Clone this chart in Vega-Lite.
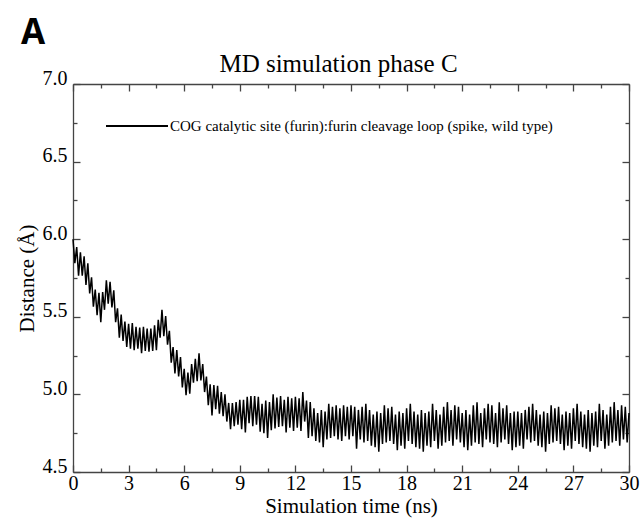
{
  "$schema": "https://vega.github.io/schema/vega-lite/v6.json",
  "width": 556,
  "height": 388,
  "autosize": {"type": "none"},
  "padding": {"left": 73, "top": 84, "right": 11, "bottom": 46},
  "background": "white",
  "config": {
    "view": {"stroke": null},
    "axis": {
      "grid": false,
      "labelFont": "Liberation Serif",
      "titleFont": "Liberation Serif",
      "labelColor": "black",
      "titleColor": "black",
      "titleFontWeight": "normal",
      "labelFontSize": 20,
      "titleFontSize": 21,
      "domainColor": "#444444",
      "tickColor": "#444444",
      "domainWidth": 1.3,
      "tickWidth": 1.3,
      "labelFlush": false,
      "labelOverlap": false
    }
  },
  "title": {
    "text": "A",
    "anchor": "start",
    "frame": "group",
    "font": "Open Sans",
    "fontWeight": "bold",
    "fontSize": 35,
    "color": "black",
    "dx": -52,
    "dy": 4
  },
  "data": {
    "values": [
      {"t": 0, "d": 6.0}, {"t": 0.1, "d": 5.845}, {"t": 0.2, "d": 5.95}, {"t": 0.3, "d": 5.765}, {"t": 0.4, "d": 5.915},
      {"t": 0.5, "d": 5.765}, {"t": 0.6, "d": 5.89}, {"t": 0.7, "d": 5.705}, {"t": 0.8, "d": 5.845}, {"t": 0.9, "d": 5.65},
      {"t": 1.0, "d": 5.755}, {"t": 1.1, "d": 5.565}, {"t": 1.2, "d": 5.675}, {"t": 1.3, "d": 5.51}, {"t": 1.4, "d": 5.655},
      {"t": 1.5, "d": 5.465}, {"t": 1.6, "d": 5.66}, {"t": 1.7, "d": 5.545}, {"t": 1.8, "d": 5.735}, {"t": 1.9, "d": 5.585},
      {"t": 2.0, "d": 5.725}, {"t": 2.1, "d": 5.56}, {"t": 2.2, "d": 5.67}, {"t": 2.3, "d": 5.465}, {"t": 2.4, "d": 5.555},
      {"t": 2.5, "d": 5.365}, {"t": 2.6, "d": 5.515}, {"t": 2.7, "d": 5.345}, {"t": 2.8, "d": 5.47}, {"t": 2.9, "d": 5.305},
      {"t": 3.0, "d": 5.455}, {"t": 3.1, "d": 5.295}, {"t": 3.2, "d": 5.46}, {"t": 3.3, "d": 5.285}, {"t": 3.4, "d": 5.435},
      {"t": 3.5, "d": 5.295}, {"t": 3.6, "d": 5.43}, {"t": 3.7, "d": 5.265}, {"t": 3.8, "d": 5.435}, {"t": 3.9, "d": 5.28},
      {"t": 4.0, "d": 5.425}, {"t": 4.1, "d": 5.275}, {"t": 4.2, "d": 5.425}, {"t": 4.3, "d": 5.28}, {"t": 4.4, "d": 5.445},
      {"t": 4.5, "d": 5.285}, {"t": 4.6, "d": 5.48}, {"t": 4.7, "d": 5.365}, {"t": 4.8, "d": 5.545}, {"t": 4.9, "d": 5.375},
      {"t": 5.0, "d": 5.505}, {"t": 5.1, "d": 5.32}, {"t": 5.2, "d": 5.41}, {"t": 5.3, "d": 5.205}, {"t": 5.4, "d": 5.305},
      {"t": 5.5, "d": 5.135}, {"t": 5.6, "d": 5.285}, {"t": 5.7, "d": 5.115}, {"t": 5.8, "d": 5.24}, {"t": 5.9, "d": 5.045},
      {"t": 6.0, "d": 5.165}, {"t": 6.1, "d": 4.995}, {"t": 6.2, "d": 5.14}, {"t": 6.3, "d": 5.005}, {"t": 6.4, "d": 5.195},
      {"t": 6.5, "d": 5.075}, {"t": 6.6, "d": 5.23}, {"t": 6.7, "d": 5.085}, {"t": 6.8, "d": 5.265}, {"t": 6.9, "d": 5.09},
      {"t": 7.0, "d": 5.195}, {"t": 7.1, "d": 5.015}, {"t": 7.2, "d": 5.115}, {"t": 7.3, "d": 4.93}, {"t": 7.4, "d": 5.065},
      {"t": 7.5, "d": 4.865}, {"t": 7.6, "d": 5.06}, {"t": 7.7, "d": 4.905}, {"t": 7.8, "d": 5.055}, {"t": 7.9, "d": 4.875},
      {"t": 8.0, "d": 5.015}, {"t": 8.1, "d": 4.86}, {"t": 8.2, "d": 5.0}, {"t": 8.3, "d": 4.825}, {"t": 8.4, "d": 4.945},
      {"t": 8.5, "d": 4.775}, {"t": 8.6, "d": 4.945}, {"t": 8.7, "d": 4.795}, {"t": 8.8, "d": 4.95}, {"t": 8.9, "d": 4.805},
      {"t": 9.0, "d": 4.965}, {"t": 9.1, "d": 4.775}, {"t": 9.2, "d": 4.965}, {"t": 9.3, "d": 4.755}, {"t": 9.4, "d": 4.985},
      {"t": 9.5, "d": 4.815}, {"t": 9.6, "d": 4.99}, {"t": 9.7, "d": 4.795}, {"t": 9.8, "d": 4.99}, {"t": 9.9, "d": 4.805},
      {"t": 10.0, "d": 4.985}, {"t": 10.1, "d": 4.76}, {"t": 10.2, "d": 4.94}, {"t": 10.3, "d": 4.75}, {"t": 10.4, "d": 4.96},
      {"t": 10.5, "d": 4.72}, {"t": 10.6, "d": 4.95}, {"t": 10.7, "d": 4.77}, {"t": 10.8, "d": 5.0}, {"t": 10.9, "d": 4.78},
      {"t": 11.0, "d": 4.98}, {"t": 11.1, "d": 4.79}, {"t": 11.2, "d": 4.99}, {"t": 11.3, "d": 4.795}, {"t": 11.4, "d": 4.965},
      {"t": 11.5, "d": 4.755}, {"t": 11.6, "d": 4.985}, {"t": 11.7, "d": 4.785}, {"t": 11.8, "d": 4.975}, {"t": 11.9, "d": 4.765},
      {"t": 12.0, "d": 4.985}, {"t": 12.1, "d": 4.785}, {"t": 12.2, "d": 4.975}, {"t": 12.3, "d": 4.765}, {"t": 12.4, "d": 5.015},
      {"t": 12.5, "d": 4.825}, {"t": 12.6, "d": 4.96}, {"t": 12.7, "d": 4.72}, {"t": 12.8, "d": 4.95}, {"t": 12.9, "d": 4.73},
      {"t": 13.0, "d": 4.91}, {"t": 13.1, "d": 4.7}, {"t": 13.2, "d": 4.88}, {"t": 13.3, "d": 4.69}, {"t": 13.4, "d": 4.9},
      {"t": 13.5, "d": 4.66}, {"t": 13.6, "d": 4.89}, {"t": 13.7, "d": 4.71}, {"t": 13.8, "d": 4.94}, {"t": 13.9, "d": 4.72},
      {"t": 14.0, "d": 4.92}, {"t": 14.1, "d": 4.73}, {"t": 14.2, "d": 4.93}, {"t": 14.3, "d": 4.71}, {"t": 14.4, "d": 4.91},
      {"t": 14.5, "d": 4.7}, {"t": 14.6, "d": 4.93}, {"t": 14.7, "d": 4.73}, {"t": 14.8, "d": 4.92}, {"t": 14.9, "d": 4.71},
      {"t": 15.0, "d": 4.93}, {"t": 15.1, "d": 4.73}, {"t": 15.2, "d": 4.92}, {"t": 15.3, "d": 4.65}, {"t": 15.4, "d": 4.9},
      {"t": 15.5, "d": 4.71}, {"t": 15.6, "d": 4.92}, {"t": 15.7, "d": 4.69}, {"t": 15.8, "d": 4.94}, {"t": 15.9, "d": 4.7},
      {"t": 16.0, "d": 4.9}, {"t": 16.1, "d": 4.67}, {"t": 16.2, "d": 4.87}, {"t": 16.3, "d": 4.66}, {"t": 16.4, "d": 4.89},
      {"t": 16.5, "d": 4.63}, {"t": 16.6, "d": 4.88}, {"t": 16.7, "d": 4.68}, {"t": 16.8, "d": 4.93}, {"t": 16.9, "d": 4.69},
      {"t": 17.0, "d": 4.91}, {"t": 17.1, "d": 4.7}, {"t": 17.2, "d": 4.92}, {"t": 17.3, "d": 4.68}, {"t": 17.4, "d": 4.87},
      {"t": 17.5, "d": 4.64}, {"t": 17.6, "d": 4.89}, {"t": 17.7, "d": 4.67}, {"t": 17.8, "d": 4.88}, {"t": 17.9, "d": 4.65},
      {"t": 18.0, "d": 4.91}, {"t": 18.1, "d": 4.7}, {"t": 18.2, "d": 4.94}, {"t": 18.3, "d": 4.68}, {"t": 18.4, "d": 4.89},
      {"t": 18.5, "d": 4.66}, {"t": 18.6, "d": 4.87}, {"t": 18.7, "d": 4.65}, {"t": 18.8, "d": 4.9}, {"t": 18.9, "d": 4.63},
      {"t": 19.0, "d": 4.88}, {"t": 19.1, "d": 4.67}, {"t": 19.2, "d": 4.89}, {"t": 19.3, "d": 4.66}, {"t": 19.4, "d": 4.94},
      {"t": 19.5, "d": 4.7}, {"t": 19.6, "d": 4.9}, {"t": 19.7, "d": 4.65}, {"t": 19.8, "d": 4.87}, {"t": 19.9, "d": 4.67},
      {"t": 20.0, "d": 4.92}, {"t": 20.1, "d": 4.69}, {"t": 20.2, "d": 4.95}, {"t": 20.3, "d": 4.7}, {"t": 20.4, "d": 4.9},
      {"t": 20.5, "d": 4.67}, {"t": 20.6, "d": 4.93}, {"t": 20.7, "d": 4.71}, {"t": 20.8, "d": 4.92}, {"t": 20.9, "d": 4.69},
      {"t": 21.0, "d": 4.88}, {"t": 21.1, "d": 4.66}, {"t": 21.2, "d": 4.9}, {"t": 21.3, "d": 4.64}, {"t": 21.4, "d": 4.87},
      {"t": 21.5, "d": 4.67}, {"t": 21.6, "d": 4.93}, {"t": 21.7, "d": 4.69}, {"t": 21.8, "d": 4.95}, {"t": 21.9, "d": 4.68},
      {"t": 22.0, "d": 4.88}, {"t": 22.1, "d": 4.66}, {"t": 22.2, "d": 4.91}, {"t": 22.3, "d": 4.71}, {"t": 22.4, "d": 4.94},
      {"t": 22.5, "d": 4.69}, {"t": 22.6, "d": 4.93}, {"t": 22.7, "d": 4.68}, {"t": 22.8, "d": 4.88}, {"t": 22.9, "d": 4.66},
      {"t": 23.0, "d": 4.95}, {"t": 23.1, "d": 4.69}, {"t": 23.2, "d": 4.91}, {"t": 23.3, "d": 4.71}, {"t": 23.4, "d": 4.93},
      {"t": 23.5, "d": 4.68}, {"t": 23.6, "d": 4.88}, {"t": 23.7, "d": 4.64}, {"t": 23.8, "d": 4.89}, {"t": 23.9, "d": 4.66},
      {"t": 24.0, "d": 4.89}, {"t": 24.1, "d": 4.67}, {"t": 24.2, "d": 4.88}, {"t": 24.3, "d": 4.65}, {"t": 24.4, "d": 4.9},
      {"t": 24.5, "d": 4.71}, {"t": 24.6, "d": 4.92}, {"t": 24.7, "d": 4.69}, {"t": 24.8, "d": 4.94}, {"t": 24.9, "d": 4.7},
      {"t": 25.0, "d": 4.9}, {"t": 25.1, "d": 4.67}, {"t": 25.2, "d": 4.87}, {"t": 25.3, "d": 4.66}, {"t": 25.4, "d": 4.89},
      {"t": 25.5, "d": 4.63}, {"t": 25.6, "d": 4.88}, {"t": 25.7, "d": 4.68}, {"t": 25.8, "d": 4.93}, {"t": 25.9, "d": 4.69},
      {"t": 26.0, "d": 4.91}, {"t": 26.1, "d": 4.7}, {"t": 26.2, "d": 4.92}, {"t": 26.3, "d": 4.68}, {"t": 26.4, "d": 4.87},
      {"t": 26.5, "d": 4.64}, {"t": 26.6, "d": 4.89}, {"t": 26.7, "d": 4.67}, {"t": 26.8, "d": 4.88}, {"t": 26.9, "d": 4.65},
      {"t": 27.0, "d": 4.91}, {"t": 27.1, "d": 4.7}, {"t": 27.2, "d": 4.94}, {"t": 27.3, "d": 4.68}, {"t": 27.4, "d": 4.89},
      {"t": 27.5, "d": 4.66}, {"t": 27.6, "d": 4.87}, {"t": 27.7, "d": 4.65}, {"t": 27.8, "d": 4.9}, {"t": 27.9, "d": 4.63},
      {"t": 28.0, "d": 4.88}, {"t": 28.1, "d": 4.67}, {"t": 28.2, "d": 4.89}, {"t": 28.3, "d": 4.66}, {"t": 28.4, "d": 4.94},
      {"t": 28.5, "d": 4.7}, {"t": 28.6, "d": 4.9}, {"t": 28.7, "d": 4.65}, {"t": 28.8, "d": 4.87}, {"t": 28.9, "d": 4.67},
      {"t": 29.0, "d": 4.92}, {"t": 29.1, "d": 4.69}, {"t": 29.2, "d": 4.95}, {"t": 29.3, "d": 4.7}, {"t": 29.4, "d": 4.9},
      {"t": 29.5, "d": 4.67}, {"t": 29.6, "d": 4.93}, {"t": 29.7, "d": 4.71}, {"t": 29.8, "d": 4.92}, {"t": 29.9, "d": 4.69},
      {"t": 30.0, "d": 4.88}
    ]
  },
  "layer": [
    {
      "mark": {"type": "line", "strokeWidth": 1.5, "strokeJoin": "miter"},
      "encoding": {
        "x": {
          "field": "t",
          "type": "quantitative",
          "scale": {"domain": [0, 30], "nice": false, "zero": false},
          "axis": {
            "orient": "bottom",
            "values": [0, 3, 6, 9, 12, 15, 18, 21, 24, 27, 30],
            "tickSize": -7,
            "labelPadding": 8,
            "labelBaseline": "top",
            "title": "Simulation time (ns)",
            "titleX": 278,
            "titleY": 40,
            "titleBaseline": "alphabetic",
            "titleAlign": "center"
          }
        },
        "y": {
          "field": "d",
          "type": "quantitative",
          "scale": {"domain": [4.5, 7.0], "nice": false, "zero": false},
          "axis": {
            "orient": "left",
            "values": [4.5, 5, 5.5, 6, 6.5, 7],
            "format": ".1f",
            "tickSize": -7,
            "labelPadding": 13,
            "labelBaseline": "alphabetic",
            "title": "Distance (Å)",
            "titleX": -40,
            "titleY": 194,
            "titleAngle": 270,
            "titleBaseline": "alphabetic",
            "titleAlign": "center"
          }
        },
        "color": {
          "datum": "COG catalytic site (furin):furin cleavage loop (spike, wild type)",
          "type": "nominal",
          "scale": {"range": ["black"]},
          "legend": {
            "orient": "none",
            "legendX": 32,
            "legendY": 10,
            "title": null,
            "symbolType": "stroke",
            "symbolSize": 3844,
            "symbolStrokeWidth": 1.8,
            "symbolStrokeColor": "black",
            "labelFont": "Liberation Serif",
            "labelFontSize": 15,
            "labelColor": "black",
            "labelOffset": 1,
            "labelLimit": 600,
            "padding": 0
          }
        }
      }
    },
    {
      "mark": {"type": "line", "opacity": 0},
      "encoding": {
        "x": {
          "field": "t",
          "type": "quantitative",
          "axis": {
            "orient": "top",
            "values": [0, 3, 6, 9, 12, 15, 18, 21, 24, 27, 30],
            "labels": false,
            "tickSize": -7,
            "title": "MD simulation phase C",
            "titleFontSize": 25,
            "titleX": 265,
            "titleY": -13,
            "titleBaseline": "alphabetic",
            "titleAlign": "center"
          }
        },
        "y": {
          "field": "d",
          "type": "quantitative",
          "axis": {
            "orient": "right",
            "values": [4.5, 5, 5.5, 6, 6.5, 7],
            "labels": false,
            "tickSize": -7,
            "title": null
          }
        }
      }
    },
    {
      "mark": {"type": "line", "opacity": 0},
      "encoding": {
        "x": {
          "field": "t",
          "type": "quantitative",
          "axis": {
            "orient": "bottom",
            "values": [1.5, 4.5, 7.5, 10.5, 13.5, 16.5, 19.5, 22.5, 25.5, 28.5],
            "labels": false,
            "domain": false,
            "tickSize": -4,
            "title": null
          }
        },
        "y": {
          "field": "d",
          "type": "quantitative",
          "axis": {
            "orient": "left",
            "values": [4.75, 5.25, 5.75, 6.25, 6.75],
            "labels": false,
            "domain": false,
            "tickSize": -4,
            "title": null
          }
        }
      }
    },
    {
      "mark": {"type": "line", "opacity": 0},
      "encoding": {
        "x": {
          "field": "t",
          "type": "quantitative",
          "axis": {
            "orient": "top",
            "values": [1.5, 4.5, 7.5, 10.5, 13.5, 16.5, 19.5, 22.5, 25.5, 28.5],
            "labels": false,
            "domain": false,
            "tickSize": -4,
            "title": null
          }
        },
        "y": {
          "field": "d",
          "type": "quantitative",
          "axis": {
            "orient": "right",
            "values": [4.75, 5.25, 5.75, 6.25, 6.75],
            "labels": false,
            "domain": false,
            "tickSize": -4,
            "title": null
          }
        }
      }
    }
  ],
  "resolve": {"axis": {"x": "independent", "y": "independent"}}
}
